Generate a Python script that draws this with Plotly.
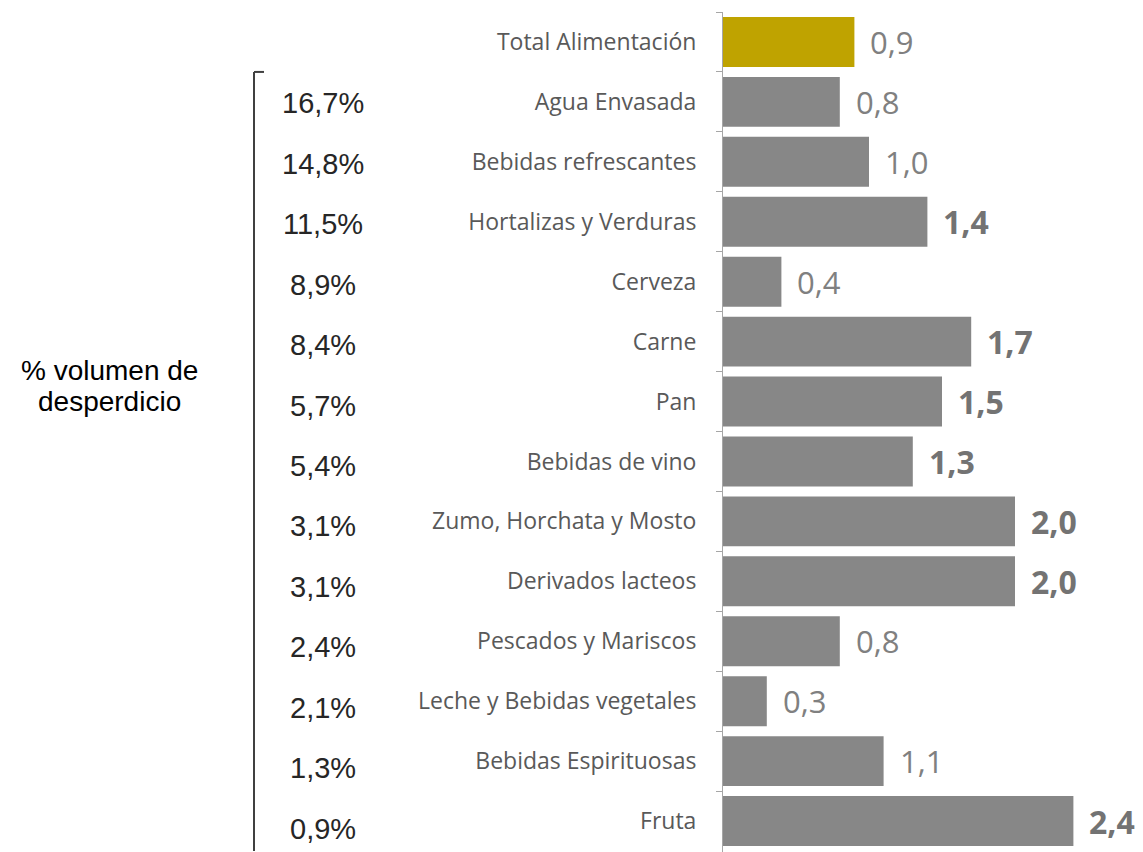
import plotly.graph_objects as go

# categories top to bottom
categorias = ["Total Alimentación", "Agua Envasada", "Bebidas refrescantes", "Hortalizas y Verduras",
              "Cerveza", "Carne", "Pan", "Bebidas de vino", "Zumo, Horchata y Mosto",
              "Derivados lacteos", "Pescados y Mariscos", "Leche y Bebidas vegetales",
              "Bebidas Espirituosas", "Fruta"]
valores = [0.9, 0.8, 1.0, 1.4, 0.4, 1.7, 1.5, 1.3, 2.0, 2.0, 0.8, 0.3, 1.1, 2.4]
pct_desperdicio = [None, "16,7%", "14,8%", "11,5%", "8,9%", "8,4%", "5,7%", "5,4%",
                   "3,1%", "3,1%", "2,4%", "2,1%", "1,3%", "0,9%"]
destacados = [False, False, False, True, False, True, True, True, True, True, False, False, False, True]

# the page body has an 8px margin, so the figure is drawn 8px in from the window edge
OFF = 8
W, H = 1143 - OFF, 852 - OFF


def px(x):
    return (x - OFF) / W


def py(y):
    return (H - (y - OFF)) / 840


colores = ["#bfa300"] + ["#878787"] * (len(categorias) - 1)

fig = go.Figure(go.Bar(
    x=valores, y=categorias, orientation="h",
    marker=dict(color=colores, line=dict(width=0)),
    hoverinfo="skip",
))

# value labels next to each bar
for cat, v, b in zip(categorias, valores, destacados):
    txt = f"{v:.1f}".replace(".", ",")
    fig.add_annotation(
        x=v, y=cat, xref="x", yref="y", xanchor="left", xshift=14, showarrow=False,
        text=f"<b>{txt}</b>" if b else txt,
        font=dict(family="Open Sans", size=32 if b else 31, color="#737373" if b else "#808080"),
    )

# share of wasted volume, left column
for i, (cat, p) in enumerate(zip(categorias, pct_desperdicio)):
    if p is None:
        continue
    fig.add_annotation(
        x=px(323), y=cat, xref="paper", yref="y", xanchor="center", yshift=-(1 + 0.5 * i),
        showarrow=False,
        text=p, font=dict(family="Liberation Sans, Arial", size=29, color="#262626"),
    )

for txt, yy in [("% volumen de", 370), ("desperdicio", 401)]:
    fig.add_annotation(
        x=px(109), y=py(yy), xref="paper", yref="paper", xanchor="center", yanchor="middle",
        showarrow=False, text=txt,
        font=dict(family="Liberation Sans, Arial", size=28, color="#000000"),
    )

# bracket
fig.add_shape(type="line", xref="paper", yref="y", x0=px(254), x1=px(254), y0=0.5, y1=13.5,
              line=dict(color="#404040", width=2))
fig.add_shape(type="line", xref="paper", yref="y", x0=px(254), x1=px(264), y0=0.5, y1=0.5,
              line=dict(color="#404040", width=2))

fig.update_layout(
    width=W, height=H,
    margin=dict(l=0, r=0, t=12 - OFF, b=0),
    plot_bgcolor="white", paper_bgcolor="white",
    bargap=0.167,
    showlegend=False,
    xaxis=dict(domain=[px(723), 1], range=[0, 420 / 146], visible=False, fixedrange=True),
    yaxis=dict(
        autorange="reversed", showline=True, linecolor="#a6a6a6", linewidth=1,
        ticks="outside", ticklen=6, tickcolor="#a6a6a6", tickson="boundaries",
        ticklabelstandoff=21,
        tickfont=dict(family="Open Sans", size=23, color="#595959"),
        showgrid=False, zeroline=False, fixedrange=True,
    ),
)

fig.write_html("out.html")
